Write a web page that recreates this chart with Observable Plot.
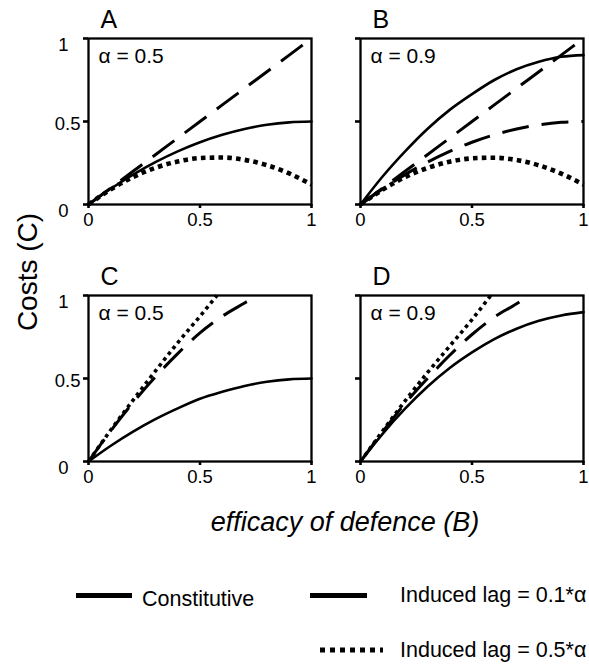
<!DOCTYPE html>
<html>
<head>
<meta charset="utf-8">
<script src="https://cdn.jsdelivr.net/npm/d3@7"></script>
<script src="https://cdn.jsdelivr.net/npm/@observablehq/plot@0.6"></script>
<style>
  body { margin: 0; background: #fff; font-family: "Liberation Sans", Arial, Helvetica, sans-serif; }
  #chart { width: 589px; }
  #chart svg { display: block; }
</style>
</head>
<body>
<div id="chart"></div>
<script>
// ---------- data ----------
const efficacy = [0, 0.1, 0.2, 0.3, 0.4, 0.5, 0.6, 0.7, 0.8, 0.9, 1];
const panelLetters = ["A", "B", "C", "D"];
const alphaLabels = ["α = 0.5", "α = 0.9", "α = 0.5", "α = 0.9"];
const panelColumns = ["left", "right", "left", "right"];
const panelRows = ["top", "top", "bottom", "bottom"];
const seriesNames = ["Constitutive", "Induced lag = 0.1*α", "Induced lag = 0.5*α"];
const axisTicks = [0, 0.5, 1];
const xLabel = "efficacy of defence (B)";
const yLabel = "Costs (C)";

// Panel A (α = 0.5)
const costA_constitutive = [0, 0.095, 0.18, 0.255, 0.32, 0.375, 0.42, 0.455, 0.48, 0.495, 0.5];
const costA_lag01 = [0, 0.1, 0.2, 0.3, 0.4, 0.5, 0.6, 0.7, 0.8, 0.9, 1];
const costA_lag05 = [0, 0.091, 0.165, 0.221, 0.259, 0.28, 0.283, 0.269, 0.237, 0.187, 0.12];

// Panel B (α = 0.9)
const costB_constitutive = [0, 0.17, 0.32, 0.455, 0.57, 0.665, 0.75, 0.815, 0.86, 0.89, 0.9];
const costB_lag01 = [0, 0.1, 0.2, 0.3, 0.4, 0.5, 0.6, 0.7, 0.8, 0.9, 1];
const costB_lag01_curve = [0, 0.095, 0.18, 0.255, 0.32, 0.375, 0.42, 0.455, 0.48, 0.495, 0.5];
const costB_lag05 = [0, 0.09, 0.165, 0.22, 0.258, 0.278, 0.282, 0.268, 0.236, 0.186, 0.12];

// Panel C (α = 0.5)
const costC_constitutive = [0, 0.095, 0.18, 0.255, 0.32, 0.378, 0.42, 0.455, 0.48, 0.495, 0.5];
const effC_lag01 = [0, 0.1, 0.2, 0.3, 0.4, 0.5, 0.6, 0.7, 0.756];
const costC_lag01 = [0, 0.185, 0.355, 0.51, 0.65, 0.775, 0.875, 0.955, 1];
const effC_lag05 = [0, 0.1, 0.2, 0.3, 0.4, 0.5, 0.576];
const costC_lag05 = [0, 0.19, 0.37, 0.545, 0.715, 0.875, 1];

// Panel D (α = 0.9)
const costD_constitutive = [0, 0.168, 0.318, 0.45, 0.563, 0.657, 0.737, 0.8, 0.848, 0.88, 0.9];
const effD_lag01 = [0, 0.1, 0.2, 0.3, 0.4, 0.5, 0.6, 0.7, 0.756];
const costD_lag01 = [0, 0.18, 0.35, 0.5, 0.64, 0.765, 0.87, 0.95, 1];
const effD_lag05 = [0, 0.1, 0.2, 0.3, 0.4, 0.5, 0.584];
const costD_lag05 = [0, 0.185, 0.365, 0.535, 0.695, 0.855, 1];

// ---------- build tidy table ----------
function rowsOf(panel, id, xs, ys) {
  const i = panelLetters.indexOf(panel);
  return xs.map((b, k) => ({panel, id: panel + id, col: panelColumns[i], row: panelRows[i], B: b, C: ys[k]}));
}
const solidRows = [
  ...rowsOf("A", "c", efficacy, costA_constitutive),
  ...rowsOf("B", "c", efficacy, costB_constitutive),
  ...rowsOf("C", "c", efficacy, costC_constitutive),
  ...rowsOf("D", "c", efficacy, costD_constitutive)
];
const dashedRows = [
  ...rowsOf("A", "l1", efficacy, costA_lag01),
  ...rowsOf("B", "l1", efficacy, costB_lag01),
  ...rowsOf("B", "l1b", efficacy, costB_lag01_curve),
  ...rowsOf("C", "l1", effC_lag01, costC_lag01),
  ...rowsOf("D", "l1", effD_lag01, costD_lag01)
];
const dottedTopRows = [
  ...rowsOf("A", "l5", efficacy, costA_lag05),
  ...rowsOf("B", "l5", efficacy, costB_lag05)
];
const dottedBottomRows = [
  ...rowsOf("C", "l5", effC_lag05, costC_lag05),
  ...rowsOf("D", "l5", effD_lag05, costD_lag05)
];
const panelInfo = panelLetters.map((p, i) => ({letter: p, alpha: alphaLabels[i], col: panelColumns[i], row: panelRows[i]}));

const font = "'Liberation Sans', Arial, Helvetica, sans-serif";
const W = 589, H = 560;
const fmt = d => String(d);
const tickFont = 18.5;

const chart = Plot.plot({
  width: W,
  height: H,
  marginLeft: 88,
  marginRight: 5,
  marginTop: 38,
  marginBottom: H - 461,
  style: {fontFamily: font, fontSize: tickFont + "px", color: "black", background: "white"},
  x: {domain: [0, 1], axis: null, label: null},
  y: {domain: [0, 1], axis: null, label: null},
  fx: {domain: ["left", "right"], paddingInner: 49 / 272.5, paddingOuter: 0, axis: null, label: null},
  fy: {domain: ["top", "bottom"], paddingInner: 91 / 257, paddingOuter: 0, axis: null, label: null},
  marks: [
    Plot.frame({stroke: "black", strokeWidth: 2.3}),
    // y tick marks in every panel
    Plot.axisY({ticks: axisTicks, tickSize: 5, strokeWidth: 2.6, tickFormat: () => "", facetAnchor: null, label: null}),
    // y tick labels, left column only
    Plot.axisY({ticks: [0.5], tickSize: 0, tickPadding: 8, dy: 3, fontSize: tickFont, tickFormat: fmt, facetAnchor: "left", label: null}),
    Plot.axisY({ticks: [0, 1], tickSize: 0, tickPadding: 20, dy: 7, fontSize: tickFont, tickFormat: fmt, facetAnchor: "left", label: null}),
    // x axis in every panel
    Plot.axisX({ticks: axisTicks, tickSize: 4, tickPadding: 4, strokeWidth: 2.6, fontSize: tickFont, tickFormat: fmt, facetAnchor: null, label: null}),
    // curves
    Plot.line(solidRows, {x: "B", y: "C", z: "id", fx: "col", fy: "row", stroke: "black", strokeWidth: 2.6, curve: "monotone-x"}),
    Plot.line(dashedRows, {x: "B", y: "C", z: "id", fx: "col", fy: "row", stroke: "black", strokeWidth: 3, strokeDasharray: "27,13", strokeLinecap: "butt", curve: "monotone-x"}),
    Plot.line(dottedTopRows, {x: "B", y: "C", z: "id", fx: "col", fy: "row", stroke: "black", strokeWidth: 4.6, strokeDasharray: "4.6,4.2", strokeLinecap: "butt", curve: "monotone-x"}),
    Plot.line(dottedBottomRows, {x: "B", y: "C", z: "id", fx: "col", fy: "row", stroke: "black", strokeWidth: 3.6, strokeDasharray: "3.6,3.8", strokeLinecap: "butt", curve: "monotone-x"}),
    // panel letters and alpha labels
    Plot.text(panelInfo, {fx: "col", fy: "row", text: "letter", frameAnchor: "top-left", textAnchor: "start", lineAnchor: "bottom", dx: 12, dy: -11, fontSize: 25, fill: "black"}),
    Plot.text(panelInfo, {fx: "col", fy: "row", text: "alpha", frameAnchor: "top-left", textAnchor: "start", lineAnchor: "bottom", dx: 10, dy: 24.5, fontSize: 21, fill: "black"})
  ]
});

// axis titles
const svgSel = d3.select(chart);
svgSel.append("text")
  .attr("transform", "translate(37,272) rotate(-90)")
  .attr("text-anchor", "middle")
  .attr("font-size", 28)
  .attr("font-family", font)
  .attr("fill", "black")
  .text(yLabel);
svgSel.append("text")
  .attr("x", 345)
  .attr("y", 531)
  .attr("text-anchor", "middle")
  .attr("font-size", 27)
  .attr("font-style", "italic")
  .attr("font-family", font)
  .attr("fill", "black")
  .text(xLabel);

document.getElementById("chart").appendChild(chart);

// ---------- legend ----------
const legend = d3.select("#chart").append("svg")
  .attr("width", W).attr("height", 665 - H)
  .style("display", "block")
  .attr("font-family", font);
const items = [
  {name: seriesNames[0], x1: 76, x2: 132, ly: 35.5, tx: 142, ty: 46, dash: null},
  {name: seriesNames[1], x1: 310, x2: 367, ly: 35.5, tx: 400, ty: 42, dash: null},
  {name: seriesNames[2], x1: 320, x2: 383, ly: 90, tx: 400, ty: 97, dash: "5,5"}
];
for (const it of items) {
  legend.append("line")
    .attr("x1", it.x1).attr("x2", it.x2).attr("y1", it.ly).attr("y2", it.ly)
    .attr("stroke", "black").attr("stroke-width", 5)
    .attr("stroke-dasharray", it.dash);
  legend.append("text")
    .attr("x", it.tx).attr("y", it.ty)
    .attr("font-size", 21.5).attr("fill", "black")
    .text(it.name);
}
</script>
</body>
</html>
